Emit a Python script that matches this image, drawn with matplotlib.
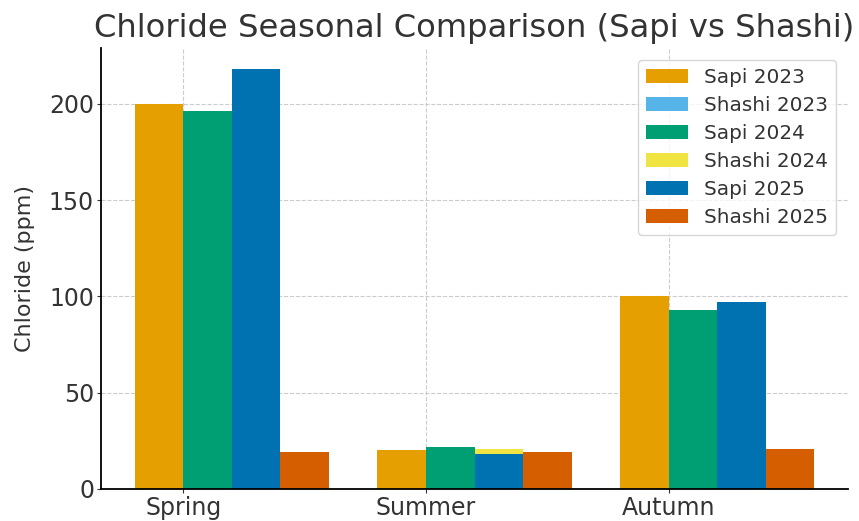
import numpy as np
import matplotlib
matplotlib.use("Agg")
import matplotlib.pyplot as plt

seasons = ["Spring", "Summer", "Autumn"]
sapi_2023 = [200, 20, 100]
shashi_2023 = [18, 19, 19]
sapi_2024 = [196, 22, 93]
shashi_2024 = [20, 21, 20]
sapi_2025 = [218, 18, 97]
shashi_2025 = [19, 19, 21]

series = [
    ("Sapi 2023", sapi_2023, "#E69F00", -0.5),
    ("Shashi 2023", shashi_2023, "#56B4E9", 0.5),
    ("Sapi 2024", sapi_2024, "#009E73", 0.5),
    ("Shashi 2024", shashi_2024, "#F0E442", 1.5),
    ("Sapi 2025", sapi_2025, "#0072B2", 1.5),
    ("Shashi 2025", shashi_2025, "#D55E00", 2.5),
]

txt = "#333333"
plt.rcParams['text.color'] = txt
plt.rcParams['axes.labelcolor'] = txt
plt.rcParams['xtick.color'] = txt
plt.rcParams['ytick.color'] = txt

fig = plt.figure(figsize=(8.59, 5.21), dpi=100)
ax = fig.add_axes([101/859, 1 - 489/521, (848-101)/859, (489-48)/521])

x = np.arange(len(seasons))
w = 0.2
for name, vals, col, off in series:
    ax.bar(x + off*w, vals, w, color=col, label=name)

ax.set_xticks(x)
ax.set_xticklabels(seasons, fontsize=17)
ax.tick_params(axis='both', labelsize=17, length=3, pad=2)
ax.set_ylabel("Chloride (ppm)", fontsize=16, labelpad=10)
ax.set_title("Chloride Seasonal Comparison (Sapi vs Shashi)", fontsize=23.2, pad=8)
ax.grid(True, linestyle='--', color='#cccccc', linewidth=0.8)
ax.set_axisbelow(True)
ax.spines['top'].set_visible(False)
ax.spines['right'].set_visible(False)
ax.spines['left'].set_linewidth(1.3)
ax.spines['bottom'].set_linewidth(1.3)
ax.set_yticks([0, 50, 100, 150, 200])
ax.legend(fontsize=14.4, loc='upper right', borderpad=0.4, handlelength=2.1,
          labelspacing=0.45, borderaxespad=0.6)

fig.savefig("out.png", dpi=100)
